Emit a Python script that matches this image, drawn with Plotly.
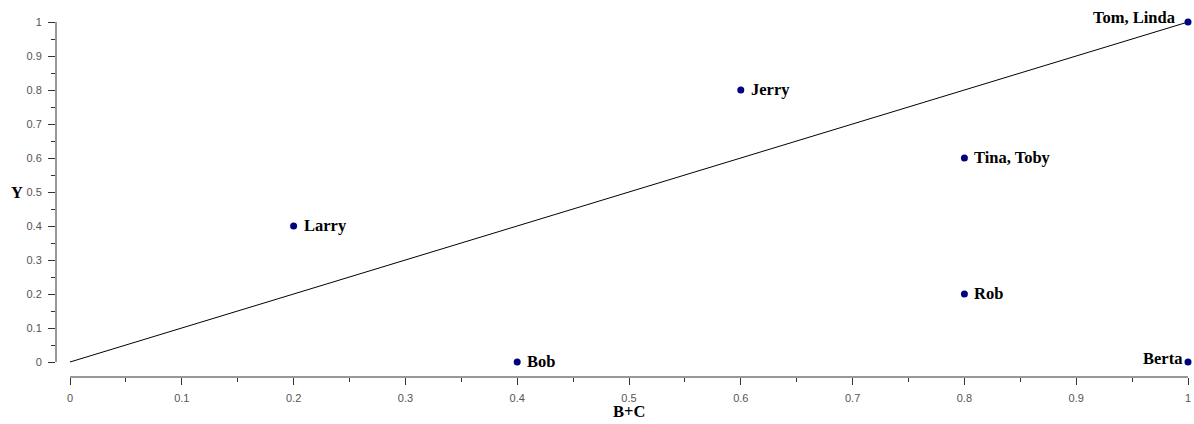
import plotly.graph_objects as go

names = ["Larry", "Bob", "Jerry", "Tina, Toby", "Rob", "Tom, Linda", "Berta"]
bc = [0.2, 0.4, 0.6, 0.8, 0.8, 1.0, 1.0]
yv = [0.4, 0.0, 0.8, 0.6, 0.2, 1.0, 0.0]
diag_x = [0, 1]
diag_y = [0, 1]
tick_vals = [i / 10 for i in range(11)]
tick_text = ["0", "0.1", "0.2", "0.3", "0.4", "0.5", "0.6", "0.7", "0.8", "0.9", "1"]

# label placement (style): names on the right edge are drawn to the left of the dot
left_labels = {"Tom, Linda": (-12, 5), "Berta": (-5, 4)}

xr = [-14 / 1118, 1.0]
yr = [-15 / 340, 1.0]

fig = go.Figure()
fig.add_trace(go.Scatter(x=diag_x, y=diag_y, mode="lines",
                         line=dict(color="black", width=1), hoverinfo="skip"))
fig.add_trace(go.Scatter(x=bc, y=yv, mode="markers",
                         marker=dict(color="#000080", size=7), cliponaxis=False))

lblfont = dict(family="Liberation Serif", size=16.5, color="black")
annotations = []
for n, xv, yy in zip(names, bc, yv):
    if n in left_labels:
        dx, dy = left_labels[n]
        annotations.append(dict(text=f"<b>{n}</b>", x=xv, y=yy, xref="x", yref="y",
                                xanchor="right", yanchor="middle", xshift=dx, yshift=dy,
                                showarrow=False, font=lblfont, borderpad=0))
    else:
        annotations.append(dict(text=f"<b>{n}</b>", x=xv, y=yy, xref="x", yref="y",
                                xanchor="left", yanchor="middle", xshift=9, yshift=1,
                                showarrow=False, font=lblfont, borderpad=0))

annotations.append(dict(text="<b>Y</b>", xref="paper", yref="y", x=0, xshift=-39, y=0.5,
                        xanchor="center", yanchor="middle", showarrow=False,
                        font=dict(family="Liberation Serif", size=16.5, color="black")))
annotations.append(dict(text="<b>B+C</b>", xref="x", yref="paper", x=0.5, y=0, yshift=-34,
                        xanchor="center", yanchor="middle", showarrow=False,
                        font=dict(family="Liberation Serif", size=16.5, color="black")))

axfont = dict(family="Liberation Sans", size=11, color="#555555")
common = dict(showgrid=False, zeroline=False, showline=False, automargin=False,
              tickmode="array", tickvals=tick_vals, ticktext=tick_text,
              ticks="outside", ticklen=7, tickcolor="#333", tickfont=axfont,
              minor=dict(tickvals=[i / 20 for i in range(1, 20, 2)], ticks="outside",
                         ticklen=4, tickcolor="#333"))
fig.update_layout(
    width=1194, height=424, showlegend=False,
    plot_bgcolor="white", paper_bgcolor="white",
    margin=dict(l=56, r=6, t=22, b=47, autoexpand=False),
    xaxis=dict(range=xr, ticklabelstandoff=4, **common),
    yaxis=dict(range=yr, ticklabelstandoff=4, **common),
    shapes=[
        dict(type="line", xref="paper", yref="y", x0=0, x1=0, y0=0, y1=1,
             line=dict(color="#333", width=1)),
        dict(type="line", xref="x", yref="paper", x0=0, x1=1, y0=0, y1=0,
             line=dict(color="#333", width=1)),
    ],
    annotations=annotations,
)
fig.write_html("out.html")
